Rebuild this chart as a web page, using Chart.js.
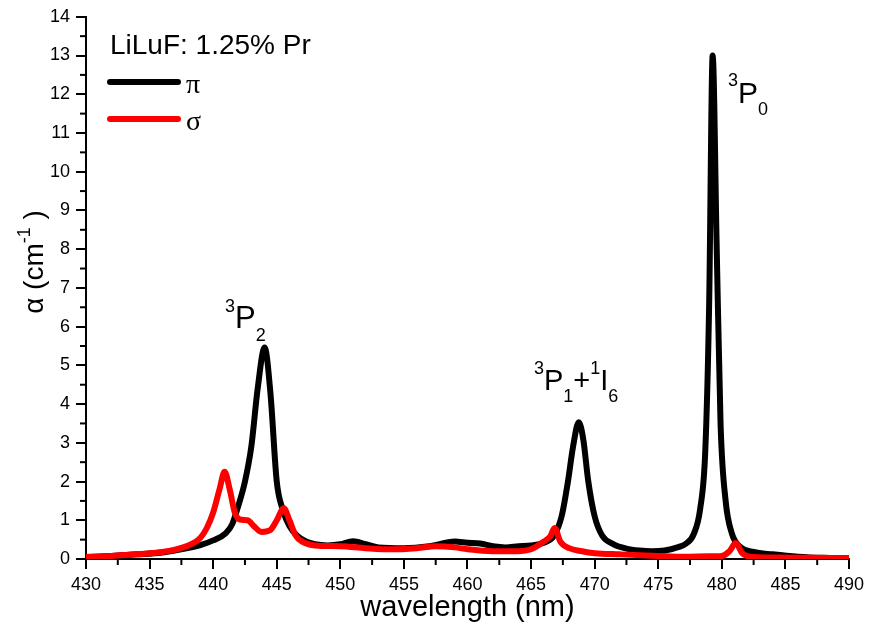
<!DOCTYPE html>
<html>
<head>
<meta charset="UTF-8">
<title>LiLuF Pr absorption</title>
<script src="https://cdn.jsdelivr.net/npm/chart.js"></script>
<style>
  body { margin: 0; background: #fff; }
</style>
</head>
<body>
<canvas id="chart" width="869" height="631"></canvas>
<script>
// pi polarisation (black)
const piWl = [430, 432, 434, 436, 438, 439, 440, 441, 441.5, 442, 442.5, 443, 443.5, 444.05, 444.5, 445, 445.5, 446, 446.6, 447.3, 448, 449, 450, 451, 452, 453, 455, 457, 459, 460, 461, 462, 463, 464, 465, 466, 466.8, 467.4, 467.9, 468.3, 468.75, 469.1, 469.5, 470, 470.6, 471.5, 472.5, 473.5, 474.5, 475.5, 476.5, 477.2, 477.8, 478.3, 478.7, 479.0, 479.28, 479.6, 479.9, 480.3, 480.8, 481.5, 482.5, 484, 486, 488, 490];
const piA = [0.05, 0.08, 0.12, 0.17, 0.28, 0.36, 0.48, 0.67, 0.9, 1.4, 2.0, 2.9, 4.4, 5.46, 4.3, 2.0, 1.25, 0.85, 0.6, 0.45, 0.38, 0.35, 0.38, 0.46, 0.38, 0.3, 0.28, 0.33, 0.45, 0.42, 0.4, 0.33, 0.3, 0.33, 0.35, 0.42, 0.6, 1.1, 2.0, 2.9, 3.53, 3.1, 2.0, 1.1, 0.6, 0.38, 0.27, 0.22, 0.2, 0.22, 0.3, 0.4, 0.65, 1.3, 2.8, 6.5, 13.0, 8.0, 3.5, 1.5, 0.65, 0.3, 0.18, 0.12, 0.06, 0.03, 0.02];

// sigma polarisation (red)
const sigWl = [430, 432, 434, 436, 437, 438, 439, 439.5, 440, 440.5, 440.9, 441.3, 441.7, 442.1, 442.7, 443.2, 443.8, 444.5, 445, 445.55, 446, 446.5, 447, 448, 450, 452, 454, 456, 457.5, 459, 460, 462, 464, 465, 466, 466.5, 466.85, 467.3, 468, 469, 470, 472, 475, 477, 479, 480, 480.6, 481.1, 481.6, 482.2, 484, 487, 490];
const sigA = [0.05, 0.08, 0.12, 0.18, 0.24, 0.34, 0.55, 0.8, 1.2, 1.8, 2.25, 1.8, 1.2, 1.02, 1.0, 0.85, 0.7, 0.75, 1.0, 1.31, 1.0, 0.6, 0.45, 0.35, 0.33, 0.28, 0.25, 0.28, 0.33, 0.3, 0.25, 0.2, 0.2, 0.25, 0.45, 0.58, 0.8, 0.45, 0.28, 0.2, 0.15, 0.12, 0.08, 0.06, 0.07, 0.08, 0.2, 0.41, 0.15, 0.06, 0.04, 0.03, 0.02];

const xTicks = [430, 435, 440, 445, 450, 455, 460, 465, 470, 475, 480, 485, 490];
const yTicks = [0, 1, 2, 3, 4, 5, 6, 7, 8, 9, 10, 11, 12, 13, 14];

const FONT = "'Liberation Sans', Arial, sans-serif";
const SERIF = "'Liberation Serif', 'Times New Roman', serif";

function pts(xs, ys) {
  return xs.map((x, i) => ({ x: x, y: ys[i] }));
}

// superscript / subscript text helper: parts = [[text, 'n'|'sup'|'sub'], ...]
function drawRich(ctx, x, y, parts, size, small, up, down) {
  let cx = x;
  parts.forEach(p => {
    const s = p[1] === 'n' ? size : small;
    const dy = p[1] === 'sup' ? -up : p[1] === 'sub' ? down : 0;
    ctx.font = s + "px " + FONT;
    ctx.fillText(p[0], cx, y + dy);
    cx += ctx.measureText(p[0]).width;
  });
}

const decor = {
  id: 'decor',
  afterDraw(chart) {
    const ctx = chart.ctx;
    const xs = chart.scales.x, ys = chart.scales.y;
    ctx.save();
    ctx.strokeStyle = '#000';
    ctx.fillStyle = '#000';
    ctx.lineWidth = 2;
    // minor ticks
    for (let v = 432.5; v < 490; v += 5) {
      const px = xs.getPixelForValue(v);
      ctx.beginPath(); ctx.moveTo(px, ys.bottom); ctx.lineTo(px, ys.bottom + 6); ctx.stroke();
    }
    for (let v = 0.5; v < 14; v += 1) {
      const py = ys.getPixelForValue(v);
      ctx.beginPath(); ctx.moveTo(xs.left, py); ctx.lineTo(xs.left - 6, py); ctx.stroke();
    }
    ctx.textBaseline = 'alphabetic';
    ctx.textAlign = 'left';
    // header + legend
    ctx.font = "28px " + FONT;
    ctx.fillText('LiLuF: 1.25% Pr', 110, 54);
    ctx.lineCap = 'round';
    ctx.lineWidth = 6;
    ctx.strokeStyle = '#000';
    ctx.beginPath(); ctx.moveTo(110, 82); ctx.lineTo(178, 82); ctx.stroke();
    ctx.strokeStyle = '#ff0000';
    ctx.beginPath(); ctx.moveTo(110, 119); ctx.lineTo(178, 119); ctx.stroke();
    ctx.font = "28px " + SERIF;
    ctx.fillText('π', 186, 93);
    ctx.fillText('σ', 186, 130);
    // peak labels
    drawRich(ctx, 225, 328, [['3', 'sup'], ['P', 'n'], ['2', 'sub']], 31, 18, 16, 13);
    drawRich(ctx, 534, 390, [['3', 'sup'], ['P', 'n'], ['1', 'sub'], ['+', 'n'], ['1', 'sup'], ['I', 'n'], ['6', 'sub']], 29, 18, 16, 12);
    drawRich(ctx, 728, 103, [['3', 'sup'], ['P', 'n'], ['0', 'sub']], 30, 18, 17, 12);
    // axis titles
    ctx.textAlign = 'center';
    ctx.font = "29px " + FONT;
    ctx.fillText('wavelength (nm)', (xs.left + xs.right) / 2, 616);
    ctx.save();
    ctx.translate(43, 262);
    ctx.rotate(-Math.PI / 2);
    ctx.textAlign = 'left';
    ctx.font = "28px " + FONT;
    const w1 = ctx.measureText('α (cm').width;
    const w3 = ctx.measureText(' )').width;
    ctx.font = "18px " + FONT;
    const w2 = ctx.measureText('-1').width;
    const start = -(w1 + w2 + w3) / 2;
    drawRich(ctx, start, 0, [['α (cm', 'n'], ['-1', 'sup'], [' )', 'n']], 28, 18, 13, 0);
    ctx.restore();
    ctx.restore();
  }
};

new Chart(document.getElementById('chart'), {
  type: 'line',
  data: {
    datasets: [
      { label: 'σ', data: pts(sigWl, sigA), borderColor: '#ff0000', borderWidth: 6, pointRadius: 0, cubicInterpolationMode: 'monotone', fill: false, order: 0 },
      { label: 'π', data: pts(piWl, piA), borderColor: '#000000', borderWidth: 6, pointRadius: 0, cubicInterpolationMode: 'monotone', fill: false, order: 1 }
    ]
  },
  options: {
    responsive: false,
    animation: false,
    devicePixelRatio: 1,
    layout: { padding: { left: 0, top: 15, right: 19, bottom: 0 } },
    plugins: { legend: { display: false }, tooltip: { enabled: false } },
    scales: {
      x: {
        type: 'linear', min: 430, max: 490,
        afterFit(s) { s.height = 72; },
        afterBuildTicks(s) { s.ticks = xTicks.map(v => ({ value: v })); },
        border: { color: '#000', width: 2 },
        grid: { drawOnChartArea: false, color: '#000', lineWidth: 2, tickLength: 10 },
        ticks: { color: '#000', font: { family: FONT, size: 18 }, padding: 5, maxRotation: 0 }
      },
      y: {
        min: 0, max: 14,
        afterFit(s) { s.width = 86; },
        afterBuildTicks(s) { s.ticks = yTicks.map(v => ({ value: v })); },
        border: { color: '#000', width: 2 },
        grid: { drawOnChartArea: false, color: '#000', lineWidth: 2, tickLength: 10 },
        ticks: { color: '#000', font: { family: FONT, size: 18 }, padding: 6 }
      }
    }
  },
  plugins: [decor]
});
</script>
</body>
</html>
